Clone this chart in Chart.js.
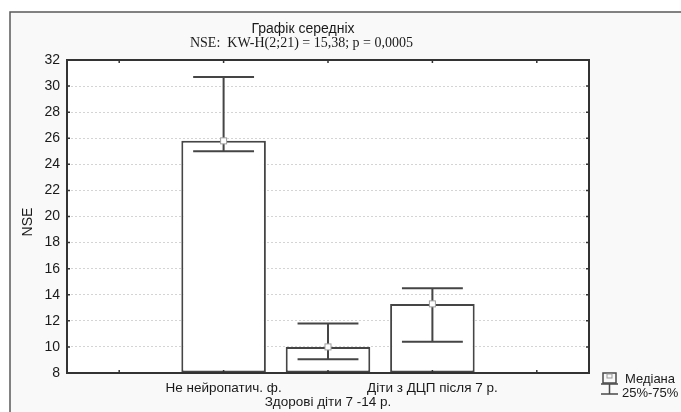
<!DOCTYPE html>
<html>
<head>
<meta charset="utf-8">
<script src="https://cdn.jsdelivr.net/npm/chart.js@4.4.1/dist/chart.umd.min.js"></script>
<style>
  html, body { margin: 0; padding: 0; background: #ffffff; }
  #wrap { width: 681px; height: 412px; }
</style>
</head>
<body>
<div id="wrap"><canvas id="c" width="681" height="412"></canvas></div>
<script>
// ---- data ----
const categories = ['', 'Не нейропатич. ф.', 'Здорові діти 7 -14 р.', 'Діти з ДЦП після 7 р.', ''];
const medians = [null, 25.8, 10.0, 13.3, null];
const q25 = [null, 25.0, 9.05, 10.4, null];
const q75 = [null, 30.7, 11.8, 14.5, null];
const yMin = 8;
const yMax = 32;
const yStep = 2;
const titleText = 'Графік середніх';
const subtitleText = 'NSE:  KW-H(2;21) = 15,38; p = 0,0005';
const yAxisTitle = 'NSE';
const legendLabels = ['Медіана', '25%-75%'];

const LINE = '#454545';
const SANS = '"Liberation Sans", Arial, sans-serif';

const decorPlugin = {
  id: 'decor',
  beforeDraw(chart) {
    const ctx = chart.ctx;
    const a = chart.chartArea;
    ctx.save();
    ctx.fillStyle = '#ffffff';
    ctx.fillRect(0, 0, chart.width, chart.height);
    ctx.fillStyle = '#f9f9f9';
    ctx.fillRect(10, 12, chart.width - 10, chart.height - 12);
    ctx.strokeStyle = '#5a5a5a';
    ctx.lineWidth = 1.5;
    ctx.beginPath();
    ctx.moveTo(10, chart.height + 2);
    ctx.lineTo(10, 12);
    ctx.lineTo(chart.width + 2, 12);
    ctx.stroke();
    ctx.fillStyle = '#ffffff';
    ctx.fillRect(a.left, a.top, a.right - a.left, a.bottom - a.top);
    ctx.restore();
  },
  afterDatasetsDraw(chart) {
    const ctx = chart.ctx;
    const a = chart.chartArea;
    const ys = chart.scales.y;
    const xs = chart.scales.x;
    const meta = chart.getDatasetMeta(0);
    ctx.save();
    // whiskers
    ctx.strokeStyle = LINE;
    ctx.lineWidth = 2;
    meta.data.forEach((el, i) => {
      if (medians[i] == null) return;
      const x = el.x;
      const half = el.width * 0.36;
      const yt = ys.getPixelForValue(q75[i]);
      const yb = ys.getPixelForValue(q25[i]);
      ctx.beginPath();
      ctx.moveTo(x, yt); ctx.lineTo(x, yb);
      ctx.moveTo(x - half, yt); ctx.lineTo(x + half, yt);
      ctx.moveTo(x - half, yb); ctx.lineTo(x + half, yb);
      ctx.stroke();
    });
    // median markers
    meta.data.forEach((el, i) => {
      if (medians[i] == null) return;
      const x = el.x;
      const y = ys.getPixelForValue(medians[i]);
      ctx.fillStyle = '#ffffff';
      ctx.fillRect(x - 3, y - 3, 6, 6);
      ctx.strokeStyle = '#a0a0a0';
      ctx.lineWidth = 1;
      ctx.strokeRect(x - 3, y - 3, 6, 6);
    });
    // inward ticks
    ctx.strokeStyle = '#333';
    ctx.lineWidth = 1.5;
    ctx.beginPath();
    ys.ticks.forEach(t => {
      const y = ys.getPixelForValue(t.value);
      ctx.moveTo(a.left, y); ctx.lineTo(a.left + 3, y);
      ctx.moveTo(a.right, y); ctx.lineTo(a.right - 3, y);
    });
    xs.ticks.forEach((t, i) => {
      const x = xs.getPixelForTick(i);
      ctx.moveTo(x, a.bottom); ctx.lineTo(x, a.bottom - 3);
      ctx.moveTo(x, a.top); ctx.lineTo(x, a.top + 3);
    });
    ctx.stroke();
    // plot frame
    ctx.strokeStyle = '#333';
    ctx.lineWidth = 2;
    ctx.strokeRect(a.left, a.top, a.right - a.left, a.bottom - a.top);

    // titles
    ctx.fillStyle = '#1a1a1a';
    ctx.textBaseline = 'alphabetic';
    ctx.textAlign = 'center';
    ctx.font = '14px ' + SANS;
    ctx.fillText(titleText, 303, 33);
    ctx.font = '14px "Liberation Serif", "Times New Roman", serif';
    ctx.textAlign = 'right';
    ctx.fillText(subtitleText, 413, 47);

    // y axis title
    ctx.save();
    ctx.translate(32, 222);
    ctx.rotate(-Math.PI / 2);
    ctx.textAlign = 'center';
    ctx.textBaseline = 'alphabetic';
    ctx.font = '14px ' + SANS;
    ctx.fillText(yAxisTitle, 0, 0);
    ctx.restore();

    // legend
    ctx.strokeStyle = '#4a4a4a';
    ctx.lineWidth = 1.5;
    ctx.strokeRect(603, 373, 13, 10);
    ctx.lineWidth = 1;
    ctx.strokeStyle = '#999';
    ctx.strokeRect(607, 374, 5, 4);
    ctx.strokeStyle = '#4a4a4a';
    ctx.lineWidth = 1.5;
    ctx.beginPath();
    ctx.moveTo(601, 384); ctx.lineTo(618, 384);
    ctx.moveTo(609.5, 384); ctx.lineTo(609.5, 394);
    ctx.moveTo(601, 394); ctx.lineTo(618, 394);
    ctx.stroke();
    ctx.fillStyle = '#1a1a1a';
    ctx.textAlign = 'left';
    ctx.font = '13px ' + SANS;
    ctx.fillText(legendLabels[0], 625, 383);
    ctx.fillText(legendLabels[1], 622, 397);
    ctx.restore();
  }
};

new Chart(document.getElementById('c'), {
  type: 'bar',
  data: {
    labels: categories,
    datasets: [{
      data: medians,
      base: yMin,
      backgroundColor: '#ffffff',
      borderColor: LINE,
      borderWidth: 2,
      borderSkipped: false,
      categoryPercentage: 1,
      barPercentage: 0.81
    }]
  },
  options: {
    responsive: false,
    animation: false,
    devicePixelRatio: 1,
    layout: { padding: { top: 60, right: 92, bottom: 0, left: 0 } },
    plugins: { legend: { display: false }, title: { display: false }, tooltip: { enabled: false } },
    scales: {
      x: {
        type: 'category',
        grid: { display: false, drawTicks: false },
        border: { display: false },
        ticks: {
          autoSkip: false,
          maxRotation: 0,
          minRotation: 0,
          padding: 8,
          color: '#1a1a1a',
          font: { family: SANS, size: 13.5, lineHeight: 1.05 },
          callback: (v, i) => (i === 2 ? ['', categories[i]] : categories[i])
        },
        afterFit: s => { s.height = 39; }
      },
      y: {
        min: yMin,
        max: yMax,
        grid: { color: '#d4d4d4', lineWidth: 1, drawTicks: false },
        border: { display: false, dash: [2, 2] },
        ticks: {
          stepSize: yStep,
          padding: 7,
          color: '#1a1a1a',
          font: { family: SANS, size: 14 }
        },
        afterFit: s => { s.width = 67; }
      }
    }
  },
  plugins: [decorPlugin]
});
</script>
</body>
</html>
